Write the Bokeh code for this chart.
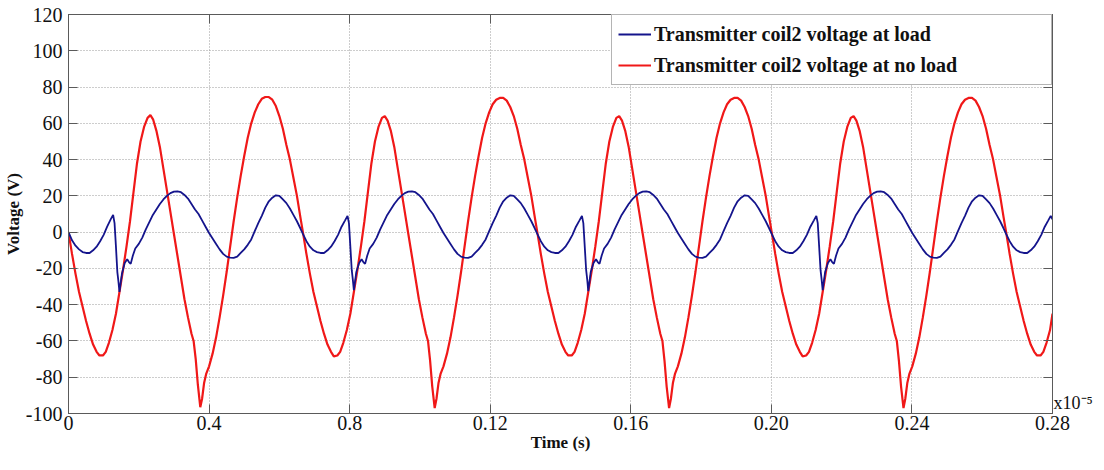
from bokeh.plotting import figure
from bokeh.models import Range1d, LinearAxis, FixedTicker, Legend, LegendItem
from bokeh.embed import file_html
from bokeh.resources import INLINE

# ---------------- data (time in units of 1e-5 s, voltage in V) ----------------
x_ticks = [0.0, 0.04, 0.08, 0.12, 0.16, 0.20, 0.24, 0.28]
x_tick_labels = ["0", "0.4", "0.8", "0.12", "0.16", "0.20", "0.24", "0.28"]
y_ticks = [-100, -80, -60, -40, -20, 0, 20, 40, 60, 80, 100, 120]
y_tick_labels = ["-100", "-80", "-60", "-40", "-20", "0", "20", "40", "60", "80", "100", "120"]
x_multiplier = "x10\u207b\u2075"

series_names = ["Transmitter coil2 voltage at load", "Transmitter coil2 voltage at no load"]

# Transmitter coil2 voltage at no load (red)
noload_t = [
    0.0000, 0.0010, 0.0020, 0.0030, 0.0040, 0.0050, 0.0060, 0.0070, 0.0080, 0.0088,
    0.0098, 0.0106, 0.0115, 0.0125, 0.0135, 0.0145, 0.0155, 0.0165, 0.0175, 0.0185,
    0.0195, 0.0205, 0.0215, 0.0225, 0.0233, 0.0241, 0.0250, 0.0260, 0.0270, 0.0280,
    0.0290, 0.0300, 0.0310, 0.0320, 0.0330, 0.0340, 0.0350, 0.0356, 0.0362, 0.0368,
    0.0375, 0.0380, 0.0386, 0.0392, 0.0400, 0.0410, 0.0420, 0.0430, 0.0440, 0.0450,
    0.0460, 0.0470, 0.0480, 0.0490, 0.0500, 0.0510, 0.0520, 0.0530, 0.0540, 0.0550,
    0.0560, 0.0570, 0.0580, 0.0590, 0.0600, 0.0610, 0.0620, 0.0630, 0.0640, 0.0650,
    0.0660,
    0.0667, 0.0677, 0.0687, 0.0697, 0.0707, 0.0717, 0.0727, 0.0737, 0.0747, 0.0755,
    0.0765, 0.0773, 0.0782, 0.0792, 0.0802, 0.0812, 0.0822, 0.0832, 0.0842, 0.0852,
    0.0862, 0.0872, 0.0882, 0.0892, 0.0900, 0.0908, 0.0917, 0.0927, 0.0937, 0.0947,
    0.0957, 0.0967, 0.0977, 0.0987, 0.0997, 0.1007, 0.1017, 0.1023, 0.1029, 0.1035,
    0.1042, 0.1047, 0.1053, 0.1059, 0.1067, 0.1077, 0.1087, 0.1097, 0.1107, 0.1117,
    0.1127, 0.1137, 0.1147, 0.1157, 0.1167, 0.1177, 0.1187, 0.1197, 0.1207, 0.1217,
    0.1227, 0.1237, 0.1247, 0.1257, 0.1267, 0.1277, 0.1287, 0.1297, 0.1307, 0.1317,
    0.1327,
    0.1334, 0.1344, 0.1354, 0.1364, 0.1374, 0.1384, 0.1394, 0.1404, 0.1414, 0.1422,
    0.1432, 0.1440, 0.1449, 0.1459, 0.1469, 0.1479, 0.1489, 0.1499, 0.1509, 0.1519,
    0.1529, 0.1539, 0.1549, 0.1559, 0.1567, 0.1575, 0.1584, 0.1594, 0.1604, 0.1614,
    0.1624, 0.1634, 0.1644, 0.1654, 0.1664, 0.1674, 0.1684, 0.1690, 0.1696, 0.1702,
    0.1709, 0.1714, 0.1720, 0.1726, 0.1734, 0.1744, 0.1754, 0.1764, 0.1774, 0.1784,
    0.1794, 0.1804, 0.1814, 0.1824, 0.1834, 0.1844, 0.1854, 0.1864, 0.1874, 0.1884,
    0.1894, 0.1904, 0.1914, 0.1924, 0.1934, 0.1944, 0.1954, 0.1964, 0.1974, 0.1984,
    0.1994,
    0.2001, 0.2011, 0.2021, 0.2031, 0.2041, 0.2051, 0.2061, 0.2071, 0.2081, 0.2089,
    0.2099, 0.2107, 0.2116, 0.2126, 0.2136, 0.2146, 0.2156, 0.2166, 0.2176, 0.2186,
    0.2196, 0.2206, 0.2216, 0.2226, 0.2234, 0.2242, 0.2251, 0.2261, 0.2271, 0.2281,
    0.2291, 0.2301, 0.2311, 0.2321, 0.2331, 0.2341, 0.2351, 0.2357, 0.2363, 0.2369,
    0.2376, 0.2381, 0.2387, 0.2393, 0.2401, 0.2411, 0.2421, 0.2431, 0.2441, 0.2451,
    0.2461, 0.2471, 0.2481, 0.2491, 0.2501, 0.2511, 0.2521, 0.2531, 0.2541, 0.2551,
    0.2561, 0.2571, 0.2581, 0.2591, 0.2601, 0.2611, 0.2621, 0.2631, 0.2641, 0.2651,
    0.2661,
    0.2668, 0.2678, 0.2688, 0.2698, 0.2708, 0.2718, 0.2728, 0.2738, 0.2748, 0.2756,
    0.2766, 0.2774, 0.2783, 0.2793, 0.2800,
]
noload_v = [
    0, -12, -23, -33, -41, -49, -56, -62, -66, -68,
    -68, -66, -61, -54, -45, -33, -21, -8, 6, 22,
    38, 50, 58, 63, 64.5, 62, 56, 47, 35, 23,
    11, -1, -13, -25, -37, -47, -56, -60, -70, -84,
    -96.5, -92, -83, -78, -74, -67, -58, -47, -35, -22,
    -8, 6, 19, 31, 42, 52, 60, 66, 70.5, 73.5,
    74.5, 74.5, 73, 69.5, 64, 57, 48, 40, 30, 20,
    8,
    0, -12, -23, -33, -41, -49, -56, -62, -66, -68.5,
    -68, -66, -61, -54, -45, -33, -21, -8, 6, 22,
    38, 50, 58, 63, 64, 61.5, 56, 47, 35, 23,
    11, -1, -13, -25, -37, -47, -56, -60, -71, -85,
    -97, -92, -83, -78, -74, -67, -58, -47, -35, -22,
    -8, 6, 19, 31, 42, 52, 60, 66, 70.5, 73,
    74, 74, 72.5, 69, 64, 57, 48, 40, 30, 20,
    8,
    0, -12, -23, -33, -41, -49, -56, -62, -66, -68,
    -68, -66, -61, -54, -45, -33, -21, -8, 6, 22,
    38, 50, 58, 63, 64, 61.5, 56, 47, 35, 23,
    11, -1, -13, -25, -37, -47, -56, -60, -71, -85,
    -97, -92, -83, -78, -74, -67, -58, -47, -35, -22,
    -8, 6, 19, 31, 42, 52, 60, 66, 70.5, 73,
    74, 74, 72.5, 69, 64, 57, 48, 40, 30, 20,
    8,
    0, -12, -23, -33, -41, -49, -56, -62, -66, -68.5,
    -68, -66, -61, -54, -45, -33, -21, -8, 6, 22,
    38, 50, 58, 63, 64, 61.5, 56, 47, 35, 23,
    11, -1, -13, -25, -37, -47, -56, -60, -71, -85,
    -97, -92, -83, -78, -74, -67, -58, -47, -35, -22,
    -8, 6, 19, 31, 42, 52, 60, 66, 70.5, 73,
    74, 74, 72.5, 69, 64, 57, 48, 40, 30, 20,
    8,
    0, -12, -23, -33, -41, -49, -56, -62, -66, -68,
    -68, -66, -61, -54, -45,
]

# Transmitter coil2 voltage at load (blue)
load_t = [
    0.0000, 0.0010, 0.0020, 0.0030, 0.0040, 0.0050, 0.0060, 0.0070, 0.0080, 0.0090,
    0.0100, 0.0110, 0.0120, 0.0127, 0.0131, 0.0135, 0.0139, 0.0142, 0.0145, 0.0152,
    0.0160, 0.0167, 0.0172, 0.0177, 0.0183, 0.0190, 0.0200, 0.0210, 0.0220, 0.0230,
    0.0240, 0.0250, 0.0260, 0.0270, 0.0280, 0.0290, 0.0300, 0.0310, 0.0320, 0.0330,
    0.0340, 0.0350, 0.0360, 0.0370, 0.0380, 0.0390, 0.0400, 0.0410, 0.0420, 0.0430,
    0.0440, 0.0450, 0.0460, 0.0470, 0.0480, 0.0490, 0.0500, 0.0510, 0.0520, 0.0530,
    0.0540, 0.0550, 0.0560, 0.0570, 0.0580, 0.0590, 0.0600, 0.0610, 0.0620, 0.0630,
    0.0640, 0.0650, 0.0660,
    0.0667, 0.0677, 0.0687, 0.0697, 0.0707, 0.0717, 0.0727, 0.0737, 0.0747, 0.0757,
    0.0767, 0.0777, 0.0787, 0.0794, 0.0798, 0.0802, 0.0806, 0.0809, 0.0812, 0.0819,
    0.0827, 0.0834, 0.0839, 0.0844, 0.0850, 0.0857, 0.0867, 0.0877, 0.0887, 0.0897,
    0.0907, 0.0917, 0.0927, 0.0937, 0.0947, 0.0957, 0.0967, 0.0977, 0.0987, 0.0997,
    0.1007, 0.1017, 0.1027, 0.1037, 0.1047, 0.1057, 0.1067, 0.1077, 0.1087, 0.1097,
    0.1107, 0.1117, 0.1127, 0.1137, 0.1147, 0.1157, 0.1167, 0.1177, 0.1187, 0.1197,
    0.1207, 0.1217, 0.1227, 0.1237, 0.1247, 0.1257, 0.1267, 0.1277, 0.1287, 0.1297,
    0.1307, 0.1317, 0.1327,
    0.1334, 0.1344, 0.1354, 0.1364, 0.1374, 0.1384, 0.1394, 0.1404, 0.1414, 0.1424,
    0.1434, 0.1444, 0.1454, 0.1461, 0.1465, 0.1469, 0.1473, 0.1476, 0.1479, 0.1486,
    0.1494, 0.1501, 0.1506, 0.1511, 0.1517, 0.1524, 0.1534, 0.1544, 0.1554, 0.1564,
    0.1574, 0.1584, 0.1594, 0.1604, 0.1614, 0.1624, 0.1634, 0.1644, 0.1654, 0.1664,
    0.1674, 0.1684, 0.1694, 0.1704, 0.1714, 0.1724, 0.1734, 0.1744, 0.1754, 0.1764,
    0.1774, 0.1784, 0.1794, 0.1804, 0.1814, 0.1824, 0.1834, 0.1844, 0.1854, 0.1864,
    0.1874, 0.1884, 0.1894, 0.1904, 0.1914, 0.1924, 0.1934, 0.1944, 0.1954, 0.1964,
    0.1974, 0.1984, 0.1994,
    0.2001, 0.2011, 0.2021, 0.2031, 0.2041, 0.2051, 0.2061, 0.2071, 0.2081, 0.2091,
    0.2101, 0.2111, 0.2121, 0.2128, 0.2132, 0.2136, 0.2140, 0.2143, 0.2146, 0.2153,
    0.2161, 0.2168, 0.2173, 0.2178, 0.2184, 0.2191, 0.2201, 0.2211, 0.2221, 0.2231,
    0.2241, 0.2251, 0.2261, 0.2271, 0.2281, 0.2291, 0.2301, 0.2311, 0.2321, 0.2331,
    0.2341, 0.2351, 0.2361, 0.2371, 0.2381, 0.2391, 0.2401, 0.2411, 0.2421, 0.2431,
    0.2441, 0.2451, 0.2461, 0.2471, 0.2481, 0.2491, 0.2501, 0.2511, 0.2521, 0.2531,
    0.2541, 0.2551, 0.2561, 0.2571, 0.2581, 0.2591, 0.2601, 0.2611, 0.2621, 0.2631,
    0.2641, 0.2651, 0.2661,
    0.2668, 0.2678, 0.2688, 0.2698, 0.2708, 0.2718, 0.2728, 0.2738, 0.2748, 0.2758,
    0.2768, 0.2778, 0.2788, 0.2795, 0.2800,
]
load_v = [
    0, -4.5, -7.5, -9.5, -11, -11.5, -11.5, -10, -8, -5,
    -1.5, 3, 7, 9.5, 5, -8, -22, -27, -33, -23,
    -17, -15, -16.5, -17.5, -13, -9, -6.5, -3, 1.5, 5.5,
    9.5, 12.5, 15.5, 18, 20, 21.5, 22.3, 22.5, 22, 20.5,
    18.5, 15.5, 12.5, 10, 6.5, 3, -0.5, -3.5, -6.5, -9.5,
    -12, -13.5, -14, -14.2, -13.5, -11.5, -9.5, -7, -4, 0.5,
    5, 9, 13.5, 17, 19, 20.3, 20, 18, 16, 13,
    9.5, 6, 2,
    -1, -5, -8, -10, -11, -11.5, -11.5, -10, -8, -5,
    -1.5, 3, 6.5, 9, 5, -8, -21, -26, -32, -22,
    -17, -15, -16.5, -17.5, -13, -9, -6.5, -3, 1.5, 5.5,
    9.5, 12.5, 15.5, 18, 20, 21.5, 22.3, 22.5, 22, 20.5,
    18.5, 15.5, 12.5, 10, 6.5, 3, -0.5, -3.5, -6.5, -9.5,
    -12, -13.5, -14, -14.2, -13.5, -11.5, -9.5, -7, -4, 0.5,
    5, 9, 13.5, 17, 19, 20.3, 20, 18, 16, 13,
    9.5, 6, 2,
    -1, -5, -8, -10, -11, -11.5, -11.5, -10, -8, -5,
    -1.5, 3, 6.5, 9, 5, -8, -21, -26, -32.5, -22,
    -17, -15, -16.5, -17.5, -13, -9, -6.5, -3, 1.5, 5.5,
    9.5, 12.5, 15.5, 18, 20, 21.5, 22.3, 22.5, 22, 20.5,
    18.5, 15.5, 12.5, 10, 6.5, 3, -0.5, -3.5, -6.5, -9.5,
    -12, -13.5, -14, -14.2, -13.5, -11.5, -9.5, -7, -4, 0.5,
    5, 9, 13.5, 17, 19, 20.3, 20, 18, 16, 13,
    9.5, 6, 2,
    -1, -5, -8, -10, -11, -11.5, -11.5, -10, -8, -5,
    -1.5, 3, 6.5, 9, 5, -8, -21, -26, -32, -22,
    -17, -15, -16.5, -17.5, -13, -9, -6.5, -3, 1.5, 5.5,
    9.5, 12.5, 15.5, 18, 20, 21.5, 22.3, 22.5, 22, 20.5,
    18.5, 15.5, 12.5, 10, 6.5, 3, -0.5, -3.5, -6.5, -9.5,
    -12, -13.5, -14, -14.2, -13.5, -11.5, -9.5, -7, -4, 0.5,
    5, 9, 13.5, 17, 19, 20.3, 20, 18, 16, 13,
    9.5, 6, 2,
    -1, -5, -8, -10, -11, -11.5, -11.5, -10, -8, -5,
    -1.5, 3, 6.5, 9, 7,
]

# ---------------- figure ----------------
SERIF = "Liberation Serif"

p = figure(width=1096, height=454, output_backend="svg", toolbar_location=None,
           x_range=Range1d(0, 0.28), y_range=Range1d(-100, 120),
           min_border_left=63, min_border_right=44, min_border_top=14, min_border_bottom=38)
p.background_fill_color = "white"
p.border_fill_color = "white"
p.outline_line_color = "#5a5a5a"
p.outline_line_width = 1

r_red = p.line(noload_t, noload_v, line_color="#f01818", line_width=2.2)
r_blue = p.line(load_t, load_v, line_color="#14148c", line_width=1.8)

xt = FixedTicker(ticks=x_ticks, minor_ticks=[])
yt = FixedTicker(ticks=y_ticks, minor_ticks=[])


def style_axis(ax, ticker, labels_map, show_labels=True):
    ax.ticker = ticker
    ax.major_tick_in = 9
    ax.major_tick_out = 0
    ax.minor_tick_in = 0
    ax.minor_tick_out = 0
    ax.axis_line_color = "#5a5a5a"
    ax.major_tick_line_color = "#5a5a5a"
    ax.major_label_text_font = SERIF
    ax.major_label_text_color = "#111111"
    if show_labels:
        ax.major_label_overrides = labels_map
        ax.major_label_text_font_size = "20px"
    else:
        ax.major_label_overrides = {k: "" for k in labels_map}
        ax.major_label_text_font_size = "8px"
        ax.major_label_standoff = 0


xmap = dict(zip(x_ticks, x_tick_labels))
ymap = dict(zip(y_ticks, y_tick_labels))

style_axis(p.xaxis[0], xt, xmap)
style_axis(p.yaxis[0], yt, ymap)
p.yaxis[0].major_label_standoff = 6
p.xaxis[0].major_label_standoff = 2

p.xaxis[0].axis_label = "Time (s)"
p.yaxis[0].axis_label = "Voltage (V)"
for ax in (p.xaxis[0], p.yaxis[0]):
    ax.axis_label_text_font = SERIF
    ax.axis_label_text_font_style = "bold"
    ax.axis_label_text_font_size = "17px"
    ax.axis_label_text_color = "#111111"
    ax.axis_label_standoff = 0

top_ax = LinearAxis()
style_axis(top_ax, xt, xmap, show_labels=False)
p.add_layout(top_ax, "above")
right_ax = LinearAxis()
style_axis(right_ax, yt, ymap, show_labels=False)
p.add_layout(right_ax, "right")

# exponent multiplier of the time axis, shown at the lower right outside the frame
mult_pos = -94
mult_ax = LinearAxis(ticker=FixedTicker(ticks=[mult_pos], minor_ticks=[]),
                     major_label_overrides={mult_pos: x_multiplier})
mult_ax.axis_line_color = None
mult_ax.major_tick_line_color = None
mult_ax.minor_tick_line_color = None
mult_ax.major_tick_in = 0
mult_ax.major_tick_out = 0
mult_ax.major_label_standoff = 1
mult_ax.major_label_text_font = SERIF
mult_ax.major_label_text_font_size = "18px"
mult_ax.major_label_text_color = "#111111"
p.add_layout(mult_ax, "right")

p.xgrid.ticker = xt
p.ygrid.ticker = yt
for g in (p.xgrid, p.ygrid):
    g.grid_line_color = "#9a9a9a"
    g.grid_line_dash = "1 2"
    g.grid_line_width = 1

legend = Legend(items=[LegendItem(label=series_names[0], renderers=[r_blue]),
                       LegendItem(label=series_names[1], renderers=[r_red])],
                location="top_right")
legend.margin = 0
legend.padding = 6
legend.spacing = 5
legend.glyph_width = 33
legend.glyph_height = 26
legend.label_height = 26
legend.label_width = 391
legend.label_standoff = 3
legend.label_text_font = SERIF
legend.label_text_font_style = "bold"
legend.label_text_font_size = "20px"
legend.label_text_color = "#111111"
legend.border_line_color = "#6a6a6a"
legend.border_line_width = 1
legend.background_fill_color = "white"
legend.background_fill_alpha = 1.0
p.add_layout(legend)

open("out.html", "w").write(file_html(p, INLINE))
